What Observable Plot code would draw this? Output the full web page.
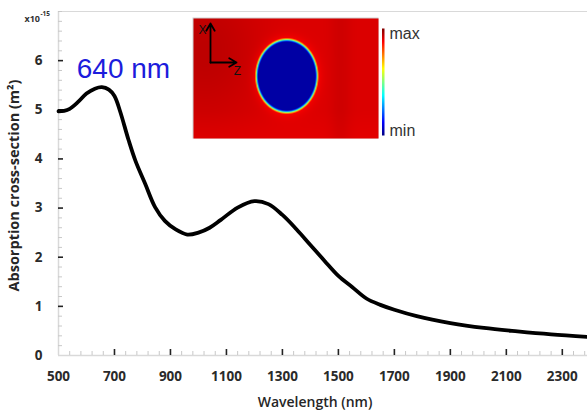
<!DOCTYPE html>
<html>
<head>
<meta charset="utf-8">
<script src="https://cdn.jsdelivr.net/npm/d3@7"></script>
<script src="https://cdn.jsdelivr.net/npm/@observablehq/plot@0.6"></script>
<style>
  html, body { margin: 0; padding: 0; background: #fff; }
  #chart { position: relative; width: 587px; height: 419px; overflow: hidden; }
  #chart svg { position: absolute; overflow: visible; }
</style>
</head>
<body>
<div id="chart"></div>
<script>
// ---- data ----
const wavelength = [500, 520, 540, 570, 600, 630, 655, 680, 700, 720, 750, 775, 810, 845, 880, 920, 960, 1000, 1040, 1080, 1140, 1200, 1250, 1300, 1350, 1400, 1450, 1500, 1550, 1600, 1650, 1700, 1780, 1900, 2020, 2140, 2260, 2390];
const absorption = [4.97, 4.98, 5.02, 5.16, 5.33, 5.43, 5.46, 5.41, 5.28, 4.97, 4.39, 3.96, 3.49, 3.02, 2.74, 2.56, 2.46, 2.50, 2.60, 2.76, 3.01, 3.14, 3.08, 2.86, 2.57, 2.25, 1.93, 1.62, 1.39, 1.16, 1.03, 0.93, 0.80, 0.66, 0.56, 0.49, 0.43, 0.38];
const xTicks = [500, 700, 900, 1100, 1300, 1500, 1700, 1900, 2100, 2300];
const yTicks = [0, 1, 2, 3, 4, 5, 6];
const xMinor = d3.range(500, 2390, 40).filter(v => !xTicks.includes(v));
const yMinor = d3.range(0, 7.001, 0.2).map(v => +v.toFixed(1)).filter(v => !yTicks.includes(v));
const data = wavelength.map((w, i) => ({w, a: absorption[i]}));

const tickFont = "Open Sans";
const main = Plot.plot({
  width: 587,
  height: 419,
  marginLeft: 58,
  marginRight: 0,
  marginTop: 11,
  marginBottom: 64,
  style: {fontFamily: tickFont, fontSize: "13.5px", fontWeight: 700, color: "#2a2a2a", background: "#fff"},
  x: {domain: [500, 2390], label: null},
  y: {domain: [0, 7], label: null},
  marks: [
    Plot.ruleY([7], {stroke: "#d9d9d9", strokeWidth: 1.2}),
    Plot.ruleX([500], {stroke: "#d9d9d9", strokeWidth: 1.5}),
    Plot.ruleY([0], {stroke: "#d9d9d9", strokeWidth: 1.5}),
    // minor ticks (inside)
    Plot.ruleX(xMinor, {x: d => d, y1: 0, y2: 0, insetTop: -4, stroke: "#c8c8c8", strokeWidth: 1}),
    Plot.ruleY(yMinor, {y: d => d, x1: 500, x2: 500, insetRight: -4, stroke: "#c8c8c8", strokeWidth: 1}),
    // major ticks (inside)
    Plot.ruleX(xTicks.slice(1), {x: d => d, y1: 0, y2: 0, insetTop: -6, stroke: "#222", strokeWidth: 1.6}),
    Plot.ruleY(yTicks.slice(1), {y: d => d, x1: 500, x2: 500, insetRight: -5, stroke: "#222", strokeWidth: 1.6}),
    Plot.axisX({ticks: xTicks, tickSize: 0, tickPadding: 16, tickFormat: d => String(d), fill: "#2a2a2a", label: null}),
    Plot.axisY({ticks: yTicks, tickSize: 0, tickPadding: 16, tickFormat: d => String(d), fill: "#2a2a2a", label: null}),
    Plot.line(data, {x: "w", y: "a", curve: "catmull-rom", stroke: "#000", strokeWidth: 3.8}),
    Plot.text([0], {frameAnchor: "left", text: ["Absorption cross-section (m²)"], rotate: -90, dx: -44, dy: 2,
      textAnchor: "middle", fontFamily: tickFont, fontWeight: 700, fontSize: 14.5, fill: "#262626"}),
    Plot.text([0], {frameAnchor: "bottom", text: ["Wavelength (nm)"], dy: 51, dx: -8, textAnchor: "middle",
      fontFamily: tickFont, fontWeight: 600, fontSize: 14, fill: "#262626"}),
    Plot.text([0], {frameAnchor: "top-left", text: ["640 nm"], dx: 65, dy: 47, textAnchor: "middle",
      fontFamily: "Liberation Sans", fontWeight: 400, fontSize: 28, fill: "#1c1cdc"}),
    Plot.text([0], {frameAnchor: "top-left", text: ["x10"], dx: -34, dy: 4, textAnchor: "start",
      fontFamily: tickFont, fontWeight: 700, fontSize: 9, fill: "#333"}),
    Plot.text([0], {frameAnchor: "top-left", text: ["-15"], dx: -18, dy: 0, textAnchor: "start",
      fontFamily: tickFont, fontWeight: 700, fontSize: 6.5, fill: "#333"})
  ]
});
main.style.left = "0px";
main.style.top = "0px";
document.getElementById("chart").appendChild(main);

// ---- inset (field map) ----
const jetStops = ["#000080", "#0000ff", "#00ffff", "#ffff00", "#ff0000", "#800000"];
const jetPos = [0, 0.125, 0.375, 0.625, 0.875, 1];
function jet(t) {
  t = Math.max(0, Math.min(1, t));
  let i = 0;
  while (i < jetPos.length - 2 && t > jetPos[i + 1]) i++;
  const u = (t - jetPos[i]) / (jetPos[i + 1] - jetPos[i]);
  return d3.interpolateRgb(jetStops[i], jetStops[i + 1])(u);
}
const field = {x1: 3, y1: 3, x2: 188, y2: 123, cx: 96.3, cy: 60.5, rx: 30.3, ry: 36.2};
function fieldValue(x, y) {
  const r = Math.hypot((x - field.cx) / field.rx, (y - field.cy) / field.ry);
  const d = (r - 1) * 33;
  if (d < -1.6) return 0.035;
  if (d < 1.6) return 0.035 + (d + 1.6) / 3.2 * 0.84;
  const glow = Math.exp(-(d - 1.6) / 4) * 0.03;
  const dark = 0.03 * Math.exp(-(((x - 15) / 55) ** 2 + ((y - 35) / 70) ** 2));
  const band = 0.012 * Math.exp(-(((x - 150) / 10) ** 2));
  const low = -0.008 * Math.max(0, (y - 95) / 28);
  return 0.91 - glow + dark + band + low;
}
const inset = Plot.plot({
  width: 245,
  height: 128,
  margin: 0,
  x: {domain: [0, 245], range: [0, 245], axis: null},
  y: {domain: [0, 128], range: [0, 128], axis: null},
  color: {type: "linear", domain: [0, 1], interpolate: t => jet(t)},
  style: {background: "transparent", overflow: "visible"},
  marks: [
    Plot.rect([0], {x1: field.x1 - 0.5, y1: field.y1 - 0.5, x2: field.x2 + 0.5, y2: field.y2 + 0.5, fill: "#cfcfcf"}),
    Plot.raster({x1: field.x1, y1: field.y1, x2: field.x2, y2: field.y2, width: 185, height: 120,
      fill: (x, y) => fieldValue(x, y)}),
    Plot.raster({x1: 191.5, y1: 13, x2: 194, y2: 120, width: 1, height: 107,
      fill: (x, y) => 1 - (y - 13) / 107}),
    Plot.arrow([0], {x1: 20, y1: 47, x2: 20, y2: 8, stroke: "#000", strokeWidth: 1.8, headLength: 7}),
    Plot.arrow([0], {x1: 20, y1: 47, x2: 46, y2: 47, stroke: "#000", strokeWidth: 1.8, headLength: 7}),
    Plot.text([0], {x: 12, y: 15, text: ["X"], fontFamily: "Liberation Sans", fontSize: 12, fill: "#111"}),
    Plot.text([0], {x: 47, y: 56, text: ["Z"], fontFamily: "Liberation Sans", fontSize: 12, fill: "#111"}),
    Plot.text([0], {x: 199, y: 18, text: ["max"], textAnchor: "start", fontFamily: "Liberation Sans", fontSize: 16, fill: "#333"}),
    Plot.text([0], {x: 199, y: 115, text: ["min"], textAnchor: "start", fontFamily: "Liberation Sans", fontSize: 16, fill: "#333"})
  ]
});
inset.style.left = "190px";
inset.style.top = "15px";
document.getElementById("chart").appendChild(inset);
</script>
</body>
</html>
